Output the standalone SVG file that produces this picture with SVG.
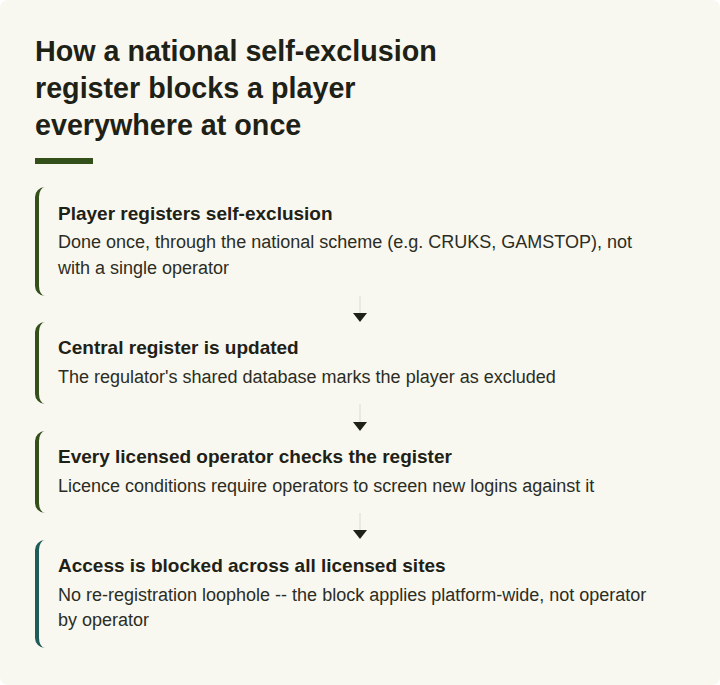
<svg xmlns="http://www.w3.org/2000/svg" width="720" height="685" viewBox="0 0 720 685">
<style>
.h{font-family:"Liberation Sans",Arial,sans-serif;font-weight:bold;font-size:28.7px;fill:#1e2116}
.t{font-family:"Liberation Sans",Arial,sans-serif;font-weight:bold;font-size:19px;fill:#1e2116}
.b{font-family:"Liberation Sans",Arial,sans-serif;font-size:18px;fill:#2b2d24}
.bar{fill:#34501a}
.bar2{fill:#1d5c58}
.ln{stroke:#e4e4d8;stroke-width:1.5;fill:none}
.ah{fill:#1e2116}
</style>
<rect x="0" y="0" width="720" height="685" fill="#ffffff"/>
<rect x="0" y="0" width="720" height="685" rx="8" fill="#f9f8f0"/>
<g id="title">
<text class="h" x="35" y="61">How a national self-exclusion</text>
<text class="h" x="35" y="98">register blocks a player</text>
<text class="h" x="35" y="135">everywhere at once</text>
<rect x="35" y="158" width="58" height="6" fill="#34501a"/>
</g>
<g id="connectors">
<line class="ln" x1="360" y1="296" x2="360" y2="314"/>
<polygon class="ah" points="353,313 367,313 360,322"/>
<line class="ln" x1="360" y1="404" x2="360" y2="423"/>
<polygon class="ah" points="353,422 367,422 360,431"/>
<line class="ln" x1="360" y1="513" x2="360" y2="531"/>
<polygon class="ah" points="353,530 367,530 360,539"/>
</g>
<g id="step1">
<path class="bar" d="M45,187 A10,10 0 0 0 35,197 L35,286 A10,10 0 0 0 45,296 A6,10 0 0 1 39,286 L39,197 A6,10 0 0 1 45,187 Z"/>
<text class="t" x="58" y="220">Player registers self-exclusion</text>
<text class="b" x="58" y="248">Done once, through the national scheme (e.g. CRUKS, GAMSTOP), not</text>
<text class="b" x="58" y="274">with a single operator</text>
</g>
<g id="step2">
<path class="bar" d="M45,322 A10,10 0 0 0 35,332 L35,394 A10,10 0 0 0 45,404 A6,10 0 0 1 39,394 L39,332 A6,10 0 0 1 45,322 Z"/>
<text class="t" x="58" y="354">Central register is updated</text>
<text class="b" x="58" y="383">The regulator's shared database marks the player as excluded</text>
</g>
<g id="step3">
<path class="bar" d="M45,431 A10,10 0 0 0 35,441 L35,503 A10,10 0 0 0 45,513 A6,10 0 0 1 39,503 L39,441 A6,10 0 0 1 45,431 Z"/>
<text class="t" x="58" y="463">Every licensed operator checks the register</text>
<text class="b" x="58" y="492">Licence conditions require operators to screen new logins against it</text>
</g>
<g id="step4">
<path class="bar2" d="M45,540 A10,10 0 0 0 35,550 L35,638 A10,10 0 0 0 45,648 A6,10 0 0 1 39,638 L39,550 A6,10 0 0 1 45,540 Z"/>
<text class="t" x="58" y="572">Access is blocked across all licensed sites</text>
<text class="b" x="58" y="601">No re-registration loophole -- the block applies platform-wide, not operator</text>
<text class="b" x="58" y="626">by operator</text>
</g>
</svg>
